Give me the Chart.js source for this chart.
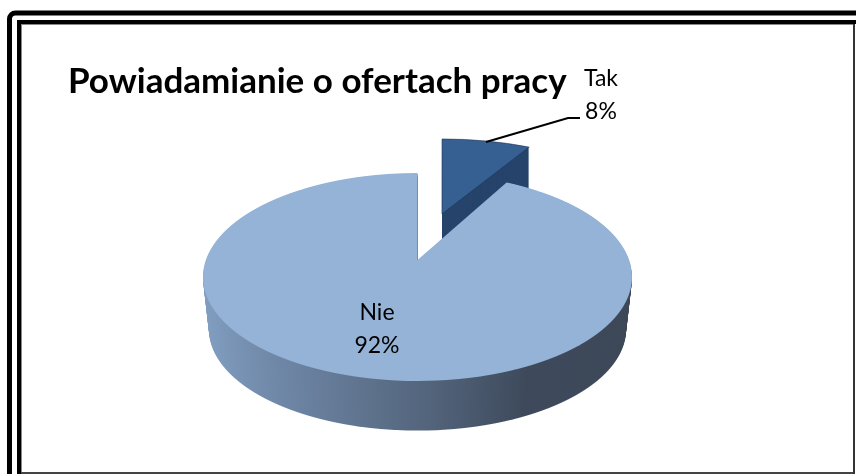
<!DOCTYPE html>
<html>
<head>
<meta charset="utf-8">
<style>
  html, body { margin: 0; padding: 0; background: #fff; }
  #wrap { width: 856px; height: 474px; }
</style>
<script src="https://cdn.jsdelivr.net/npm/chart.js@4/dist/chart.umd.min.js"></script>
</head>
<body>
<div id="wrap"><canvas id="chart" width="856" height="474"></canvas></div>
<script>
const chartTitle = "Powiadamianie o ofertach pracy";
const categories = ["Tak", "Nie"];
const shares = [8, 92];
const topColors = ["#365F92", "#95B3D7"];
const borderColors = ["#1F3553", "#95B3D7"];
const borderWidths = [1, 0];

// where each exploded slice sits on the page, and its perspective tilt
const sliceViews = [
  { x: 442, y: 214, a: 207, b: 87.3, p: 0.1635, depth: 42, shrink: 1 },
  { x: 417.5, y: 260, a: 211.6, b: 101.2, p: 0.1635, depth: 53, shrink: 0.972 },
];
const labelSpots = [
  { x: 601, y: 79, lineGap: 33 },
  { x: 377, y: 313, lineGap: 33 },
];

// canvas has no perspective transform, so the slice is drawn row by row,
// each row of pixels getting its own scale
function drawFace(ctx, arc, view, dy, shrink) {
  const r = arc.outerRadius;
  const a = view.a * shrink;
  const b = view.b * shrink;
  const p = view.p;
  const y0 = view.y + dy;
  const first = Math.floor(y0 - b / (1 + p)) - 1;
  const last = Math.ceil(y0 + b / (1 - p)) + 1;
  const rowToV = (row) => {
    const t = (row - y0) / b;
    return t / (1 + p * t);
  };
  for (let row = first; row < last; row++) {
    const v0 = rowToV(row);
    const v1 = rowToV(row + 1);
    const sx = a / r / (1 - (p * (v0 + v1)) / 2);
    const sy = 1 / ((v1 - v0) * r);
    ctx.save();
    ctx.beginPath();
    ctx.rect(0, row, 856, 1);
    ctx.clip();
    ctx.translate(view.x, row);
    ctx.scale(sx, sy);
    ctx.translate(-arc.x, -(arc.y + v0 * r));
    arc.draw(ctx);
    ctx.restore();
  }
}

function wallFill(ctx, arc, i) {
  if (i === 0) return "#26446B";
  const r = arc.outerRadius;
  const g = ctx.createLinearGradient(arc.x - r, 0, arc.x + r, 0);
  g.addColorStop(0, "#82A0C3");
  g.addColorStop(0.25, "#6C83A2");
  g.addColorStop(0.5, "#55677F");
  g.addColorStop(0.72, "#3E4A5C");
  g.addColorStop(1, "#3C4757");
  return g;
}

const pie3d = {
  id: "pie3d",
  beforeDraw(chart) {
    const ctx = chart.ctx;
    ctx.save();
    ctx.strokeStyle = "#000";
    ctx.lineWidth = 5;
    ctx.beginPath();
    ctx.roundRect(9.5, 13, 900, 520, 6);
    ctx.stroke();
    ctx.fillStyle = "#000";
    ctx.fillRect(17, 20, 839, 4);
    ctx.fillRect(17, 20, 4, 454);
    ctx.fillStyle = "#888";
    ctx.fillRect(21, 24, 832, 1);
    ctx.fillRect(21, 24, 1, 448);
    ctx.fillStyle = "#333";
    ctx.fillRect(853, 24, 2, 450);
    ctx.fillStyle = "#444";
    ctx.fillRect(21, 472, 832, 2);
    ctx.restore();
  },
  beforeDatasetDraw(chart, args) {
    const ctx = chart.ctx;
    const arcs = args.meta.data;
    arcs.forEach((arc, i) => {
      const view = sliceViews[i];
      const top = arc.options;
      arc.options = Object.assign({}, top, {
        backgroundColor: wallFill(ctx, arc, i),
        borderWidth: 0,
      });
      for (let d = view.depth; d > 0; d--) {
        const shrink = 1 - (1 - view.shrink) * (d / view.depth);
        drawFace(ctx, arc, view, d, shrink);
      }
      arc.options = top;
      drawFace(ctx, arc, view, 0, 1);
    });
    return false;
  },
  afterDatasetsDraw(chart) {
    const ctx = chart.ctx;
    ctx.save();
    // leader line for the small slice
    ctx.strokeStyle = "#000";
    ctx.lineWidth = 2;
    ctx.beginPath();
    ctx.moveTo(486, 142);
    ctx.lineTo(568, 118);
    ctx.lineTo(580, 118);
    ctx.stroke();

    ctx.fillStyle = "#000";
    ctx.font = "23px Lato";
    ctx.textAlign = "center";
    ctx.textBaseline = "middle";
    categories.forEach((name, i) => {
      const spot = labelSpots[i];
      ctx.fillText(name, spot.x, spot.y);
      ctx.fillText(shares[i] + "%", spot.x, spot.y + spot.lineGap);
    });
    ctx.restore();
  },
};

new Chart(document.getElementById("chart"), {
  type: "pie",
  data: {
    labels: categories,
    datasets: [
      {
        data: shares,
        backgroundColor: topColors,
        borderColor: borderColors,
        borderWidth: borderWidths,
      },
    ],
  },
  options: {
    responsive: false,
    animation: false,
    radius: 215,
    layout: { padding: { left: 68, top: 61 } },
    plugins: {
      legend: { display: false },
      tooltip: { enabled: false },
      title: {
        display: true,
        text: chartTitle,
        align: "start",
        color: "#000",
        font: { family: "Lato", size: 35, weight: "bold" },
        padding: 0,
      },
    },
  },
  plugins: [pie3d],
});
</script>
</body>
</html>
